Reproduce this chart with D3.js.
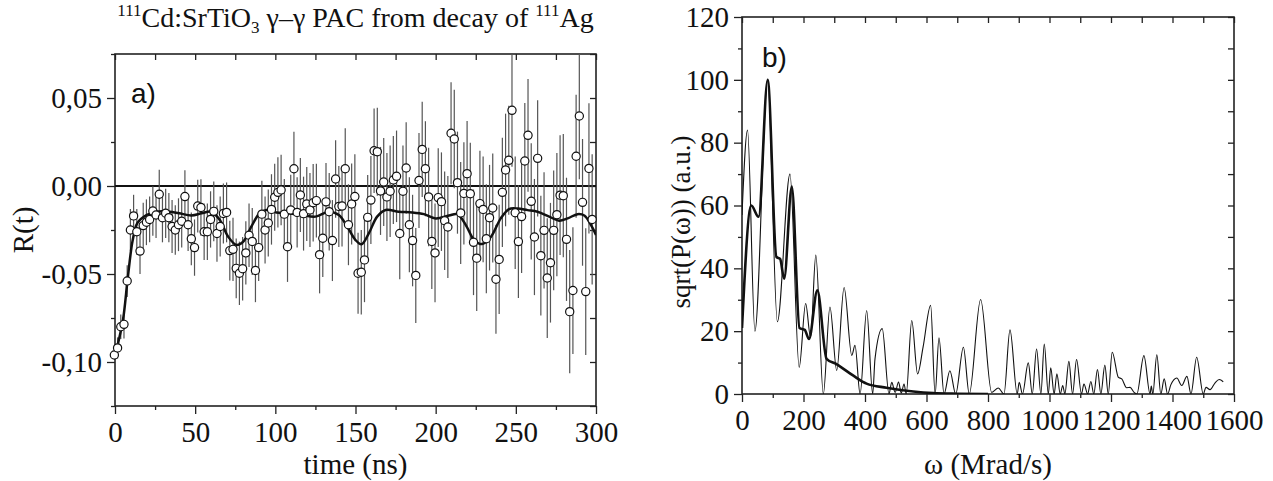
<!DOCTYPE html>
<html>
<head>
<meta charset="utf-8">
<script src="https://cdn.jsdelivr.net/npm/d3@7"></script>
<style>
  body { margin: 0; background: #fff; }
  svg text { font-family: "Liberation Serif", "Times New Roman", serif; fill: #111; }
  svg text.letter { font-family: "Liberation Sans", Arial, sans-serif; }
  .tick line { stroke: #222; stroke-width: 1.3; }
</style>
</head>
<body>
<svg id="chart" width="1273" height="481"></svg>
<script>
// time channels: first point and spacing (ns)
const tStart = -0.4;
const tStep = 2;

// R(t) data points
const rValues = [
  -0.096, -0.092, -0.080, -0.0786, -0.054, -0.025, -0.017, -0.026, -0.037, -0.0225,
  -0.0206, -0.019, -0.0142, -0.0165, -0.0047, -0.018, -0.0155, -0.018, -0.023, -0.025,
  -0.022, -0.020, -0.006, -0.022, -0.030, -0.035, -0.0114, -0.0122, -0.026, -0.026,
  -0.019, -0.0144, -0.027, -0.023, -0.0156, -0.015, -0.0367, -0.036, -0.0468, -0.0496,
  -0.047, -0.038, -0.028, -0.0315, -0.048, -0.035, -0.016, -0.025, -0.021, -0.0133,
  -0.0064, -0.0036, -0.0023, -0.016, -0.0345, -0.0136, 0.0098, -0.015, -0.0051, -0.0157,
  -0.0102, -0.0136, -0.0095, -0.0083, -0.039, -0.0297, -0.009, -0.0146, -0.031, 0.004,
  -0.0116, -0.0114, 0.0098, -0.022, -0.0102, -0.006, -0.0496, -0.049, -0.042, -0.0178,
  -0.008, 0.020, 0.0195, -0.0028, 0.0023, -0.0062, -0.0030, 0.0034, 0.0055, -0.027,
  -0.003, 0.0102, -0.022, -0.031, -0.0508, 0.0031, 0.0208, 0.0098, -0.0062, -0.0315,
  -0.038, -0.0066, -0.0089, -0.0197, -0.0233, 0.030, 0.0267, 0.0019, -0.0153, -0.0042,
  0.007, -0.0044, -0.032, -0.041, -0.010, -0.0133, -0.030, -0.018, -0.0125, -0.053,
  -0.0417, -0.0036, 0.0091, 0.0146, 0.043, -0.0152, -0.0316, -0.0174, 0.0142, 0.0288,
  -0.0087, -0.029, 0.0157, -0.0396, -0.0252, -0.0523, -0.0436, -0.0252, -0.0163, -0.0052,
  -0.0055, -0.0303, -0.0714, -0.0594, 0.0169, 0.0398, -0.0093, -0.060, 0.010, -0.019
];

// error bars (half length)
const rErrors = [
  0.005, 0.006, 0.007, 0.008, 0.009, 0.012, 0.012, 0.013, 0.013, 0.013,
  0.013, 0.013, 0.014, 0.013, 0.014, 0.014, 0.014, 0.014, 0.015, 0.014,
  0.015, 0.015, 0.015, 0.015, 0.015, 0.016, 0.015, 0.016, 0.016, 0.016,
  0.016, 0.017, 0.016, 0.017, 0.017, 0.017, 0.017, 0.018, 0.017, 0.018,
  0.018, 0.018, 0.018, 0.019, 0.018, 0.019, 0.019, 0.019, 0.019, 0.020,
  0.019, 0.020, 0.020, 0.020, 0.020, 0.020, 0.021, 0.020, 0.021, 0.021,
  0.021, 0.021, 0.022, 0.021, 0.022, 0.022, 0.022, 0.022, 0.023, 0.022,
  0.023, 0.023, 0.023, 0.023, 0.023, 0.024, 0.023, 0.024, 0.024, 0.024,
  0.025, 0.024, 0.025, 0.025, 0.025, 0.025, 0.026, 0.025, 0.026, 0.026,
  0.026, 0.026, 0.027, 0.026, 0.027, 0.027, 0.027, 0.027, 0.028, 0.027,
  0.028, 0.028, 0.028, 0.028, 0.029, 0.029, 0.028, 0.029, 0.029, 0.029,
  0.030, 0.029, 0.030, 0.030, 0.030, 0.030, 0.031, 0.030, 0.031, 0.031,
  0.031, 0.031, 0.032, 0.031, 0.032, 0.032, 0.032, 0.032, 0.033, 0.032,
  0.033, 0.033, 0.033, 0.034, 0.033, 0.034, 0.034, 0.034, 0.035, 0.034,
  0.035, 0.035, 0.035, 0.036, 0.035, 0.036, 0.036, 0.036, 0.037, 0.037
];

// fitted R(t) curve
const fitTime = [0, 2, 5, 8, 11, 14, 19.6, 26, 34, 40, 47.7, 54, 60, 65.4, 70.6, 75.8, 80, 85, 90.2, 94.4,
  100.6, 108.3, 116.7, 125, 133.3, 139.6, 144.8, 150, 153.8, 158.3, 163.5, 168.8, 177, 185.4, 192.7,
  200, 208.3, 213.5, 218.8, 224, 229, 234.4, 240.6, 245.8, 251, 257.3, 263.5, 270.8, 277, 282.3,
  288.5, 292.7, 296.9, 300];
const fitR = [-0.097, -0.089, -0.076, -0.052, -0.031, -0.021, -0.0165, -0.0146, -0.0146, -0.0155,
  -0.0167, -0.0155, -0.0146, -0.0193, -0.0288, -0.0335, -0.0316, -0.0231, -0.0155, -0.0136,
  -0.015, -0.0155, -0.0165, -0.0174, -0.0146, -0.0165, -0.023, -0.0307, -0.0331, -0.0269, -0.0174,
  -0.0136, -0.0146, -0.015, -0.016, -0.0184, -0.0168, -0.016, -0.0222, -0.0307, -0.033, -0.029,
  -0.0184, -0.0131, -0.0128, -0.0137, -0.0146, -0.0174, -0.0197, -0.0184, -0.016, -0.0168,
  -0.0222, -0.0278];

// Fourier spectrum of data (thin line)
const omegaRaw = [0, 18, 42, 83.5, 115, 156, 186, 207, 223, 240, 264.5, 286, 308, 332, 357, 367.5, 384,
  405.5, 425, 432.5, 456, 478, 487, 498, 509, 518, 527, 534, 552, 571, 589, 613.5, 628, 640.6, 657,
  676, 695, 720, 739, 776, 812, 833.5, 852, 871.5, 895, 901.5, 912, 931, 944, 958, 972, 983, 996,
  1004, 1015, 1024, 1035, 1043, 1050, 1063, 1075, 1088, 1104, 1112, 1124, 1134.5, 1144, 1156, 1167,
  1180, 1191, 1204, 1224, 1235, 1251, 1262, 1275, 1284, 1307, 1327, 1331, 1336, 1349, 1362, 1373,
  1384, 1394.5, 1414, 1430, 1447, 1460, 1478.6, 1500, 1509, 1522, 1538, 1552, 1565];
const powerRaw = [57, 84, 20, 100, 23, 70, 8.5, 28.8, 18, 44.2, 0, 27.7, 7.5, 33.9, 12.3, 15.5, 0,
  26.6, 0, 11.2, 20.8, 0, 3.7, 0.5, 3.8, 0.3, 3.2, 0, 23.4, 6.4, 15, 28.2, 0, 17.9, 0,
  7.4, 0, 14.9, 0, 30.1, 0.5, 1.9, 0, 20.4, 0, 3.7, 0, 9.9, 0, 14.3, 0, 15.9, 0,
  8.3, 0, 6.4, 0, 2.7, 0, 10.4, 0, 11, 0, 3.2, 0, 4, 0, 7.8, 0,
  9.2, 0, 13.3, 5.3, 4.8, 2, 2.1, 0.5, 0, 12.2, 0, 2.5, 0, 12.5, 0, 4.8,
  0, 2.9, 5.1, 2.7, 5.6, 0, 11.7, 0, 2.1, 1.4, 3.5, 4.6, 3.9];

// Fourier spectrum of fit (thick line)
const omegaFit = [0, 30, 54, 83.5, 112, 124, 137, 162, 187, 204, 218, 245, 275, 307, 361, 405, 470, 557, 622, 700, 800];
const powerFit = [21, 60, 56.4, 100, 43.6, 43, 36.7, 66, 21, 20.4, 17.5, 33, 11.2, 9.5, 5.9, 3.3, 2, 0.8, 0.3, 0.1, 0];

// tick values
const timeTicks = [0, 50, 100, 150, 200, 250, 300];
const timeMinor = [25, 75, 125, 175, 225, 275];
const rTicks = [-0.10, -0.05, 0, 0.05];
const rMinor = [-0.125, -0.075, -0.025, 0.025, 0.075];
const omegaTicks = [0, 200, 400, 600, 800, 1000, 1200, 1400, 1600];
const omegaMinor = [100, 300, 500, 700, 900, 1100, 1300, 1500];
const powerTicks = [0, 20, 40, 60, 80, 100, 120];
const powerMinor = [10, 30, 50, 70, 90, 110];

const svg = d3.select("#chart");

// plot frames
const L = {x0: 115, x1: 596, y0: 54, y1: 406};
const R = {x0: 742, x1: 1234, y0: 17, y1: 394};

// scales
const xTime = d3.scaleLinear().domain([0, 300]).range([L.x0, L.x1]);
const yR = d3.scaleLinear().domain([-0.125, 0.075]).range([L.y1, L.y0]);
const xOmega = d3.scaleLinear().domain([0, 1600]).range([R.x0, R.x1]);
const yP = d3.scaleLinear().domain([0, 120]).range([R.y1, R.y0]);

const commaFmt = v => (v < 0 ? "-" : "") + Math.abs(v).toFixed(2).replace(".", ",");

// draws outward major/minor ticks on bottom+left and inward ticks on top+right
function drawAxes(frame, xs, ys, xT, xM, yT, yM, yFmt) {
  const g = svg.append("g");
  g.append("g").attr("transform", `translate(0,${frame.y1})`)
    .call(d3.axisBottom(xs).tickValues(xT).tickSize(8).tickSizeOuter(0).tickPadding(7).tickFormat(d => d));
  g.append("g").attr("transform", `translate(0,${frame.y1})`)
    .call(d3.axisBottom(xs).tickValues(xM).tickSize(4).tickSizeOuter(0).tickFormat(""));
  g.append("g").attr("transform", `translate(${frame.x0},0)`)
    .call(d3.axisLeft(ys).tickValues(yT).tickSize(8).tickSizeOuter(0).tickPadding(5).tickFormat(yFmt));
  g.append("g").attr("transform", `translate(${frame.x0},0)`)
    .call(d3.axisLeft(ys).tickValues(yM).tickSize(4).tickSizeOuter(0).tickFormat(""));
  // mirror ticks
  g.append("g").attr("transform", `translate(0,${frame.y0})`)
    .call(d3.axisBottom(xs).tickValues(xT.concat(xM)).tickSize(6).tickSizeOuter(0).tickFormat(""));
  g.append("g").attr("transform", `translate(${frame.x1},0)`)
    .call(d3.axisLeft(ys).tickValues(yT.concat(yM)).tickSize(6).tickSizeOuter(0).tickFormat(""));
  g.selectAll(".domain").remove();
  g.selectAll("text").attr("font-size", 29).attr("fill", "#111");
  // frame
  svg.append("rect")
    .attr("x", frame.x0).attr("y", frame.y0)
    .attr("width", frame.x1 - frame.x0).attr("height", frame.y1 - frame.y0)
    .attr("fill", "none").attr("stroke", "#222").attr("stroke-width", 1.6);
}

drawAxes(L, xTime, yR, timeTicks, timeMinor, rTicks, rMinor, commaFmt);
drawAxes(R, xOmega, yP, omegaTicks, omegaMinor, powerTicks, powerMinor, d => d);

// clip for both panels
svg.append("clipPath").attr("id", "clipL")
  .append("rect").attr("x", L.x0).attr("y", L.y0)
  .attr("width", L.x1 - L.x0).attr("height", L.y1 - L.y0);
svg.append("clipPath").attr("id", "clipR")
  .append("rect").attr("x", R.x0).attr("y", R.y0 - 2)
  .attr("width", R.x1 - R.x0).attr("height", R.y1 - R.y0 + 2);

const points = rValues.map((v, i) => ({t: tStart + i * tStep, r: v, e: rErrors[i]}));
const left = svg.append("g").attr("clip-path", "url(#clipL)");

// zero line
left.append("line")
  .attr("x1", L.x0).attr("x2", L.x1)
  .attr("y1", yR(0)).attr("y2", yR(0))
  .attr("stroke", "#111").attr("stroke-width", 2);

// error bars
left.selectAll(".err")
  .data(points)
  .enter()
  .append("line")
  .attr("class", "err")
  .attr("x1", d => xTime(d.t)).attr("x2", d => xTime(d.t))
  .attr("y1", d => yR(d.r - d.e)).attr("y2", d => yR(d.r + d.e))
  .attr("stroke", "#555").attr("stroke-width", 1.2);

// fit curve
left.append("path")
  .datum(fitTime.map((t, i) => [t, fitR[i]]))
  .attr("d", d3.line().x(d => xTime(d[0])).y(d => yR(d[1])).curve(d3.curveCatmullRom.alpha(0.5)))
  .attr("fill", "none").attr("stroke", "#111").attr("stroke-width", 2.5);

// data points
svg.append("g").selectAll("circle")
  .data(points)
  .enter()
  .append("circle")
  .attr("cx", d => xTime(d.t)).attr("cy", d => yR(d.r))
  .attr("r", 4.1)
  .attr("fill", "#fff").attr("stroke", "#111").attr("stroke-width", 1.2);

// spectra
const right = svg.append("g").attr("clip-path", "url(#clipR)");
const specLine = d3.line().x(d => xOmega(d[0])).y(d => yP(d[1])).curve(d3.curveMonotoneX);
right.append("path")
  .datum(omegaRaw.map((w, i) => [w, powerRaw[i]]))
  .attr("d", specLine)
  .attr("fill", "none").attr("stroke", "#111").attr("stroke-width", 1.1);
right.append("path")
  .datum(omegaFit.map((w, i) => [w, powerFit[i]]))
  .attr("d", specLine)
  .attr("fill", "none").attr("stroke", "#111").attr("stroke-width", 2.6);

// panel letters
svg.append("text").attr("class", "letter").attr("x", 131).attr("y", 103)
  .attr("font-size", 28).text("a)");
svg.append("text").attr("class", "letter").attr("x", 762).attr("y", 67)
  .attr("font-size", 28).text("b)");

// axis titles
svg.append("text").attr("x", (L.x0 + L.x1) / 2).attr("y", 474)
  .attr("text-anchor", "middle").attr("font-size", 29).text("time (ns)");
svg.append("text").attr("x", (R.x0 + R.x1) / 2).attr("y", 474)
  .attr("text-anchor", "middle").attr("font-size", 29).text("ω (Mrad/s)");
svg.append("text").attr("transform", `translate(33,${(L.y0 + L.y1) / 2}) rotate(-90)`)
  .attr("text-anchor", "middle").attr("font-size", 29).text("R(t)");
svg.append("text").attr("transform", "translate(690,222) rotate(-90)")
  .attr("text-anchor", "middle").attr("font-size", 27).text("sqrt(P(ω)) (a.u.)");

// title with super/subscripts
const title = svg.append("text").attr("x", (L.x0 + L.x1) / 2).attr("y", 27)
  .attr("text-anchor", "middle").attr("font-size", 28);
title.append("tspan").attr("font-size", 17).attr("dy", -11).text("111");
title.append("tspan").attr("dy", 11).text("Cd:SrTiO");
title.append("tspan").attr("font-size", 17).attr("dy", 6).text("3");
title.append("tspan").attr("dy", -6).text(" γ–γ PAC from decay of ");
title.append("tspan").attr("font-size", 17).attr("dy", -11).text("111");
title.append("tspan").attr("dy", 11).text("Ag");
</script>
</body>
</html>
